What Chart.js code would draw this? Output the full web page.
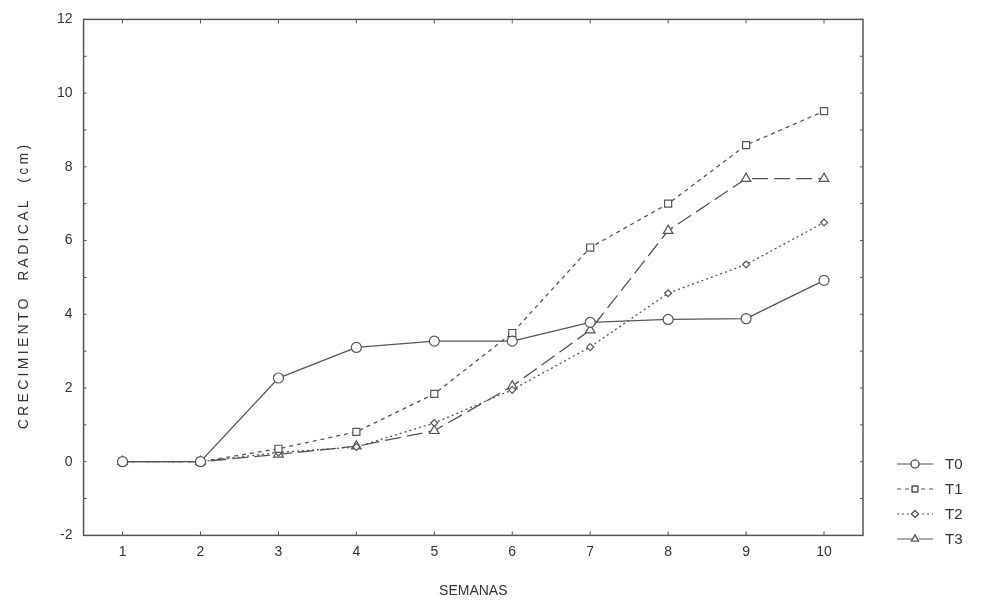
<!DOCTYPE html>
<html lang="es">
<head>
  <meta charset="utf-8">
  <title>Crecimiento radical</title>
  <script src="https://cdn.jsdelivr.net/npm/chart.js@4/dist/chart.umd.min.js"></script>
  <style>
    html, body { margin: 0; padding: 0; background: #fff; }
    #wrap { width: 981px; height: 601px; }
  </style>
</head>
<body>
<div id="wrap"><canvas id="grafico" width="981" height="601"></canvas></div>
<script>
  // semanas
  var semanas = ['1', '2', '3', '4', '5', '6', '7', '8', '9', '10'];
  // crecimiento radical (cm) por tratamiento
  var t0 = [0, 0, 2.27, 3.1, 3.27, 3.27, 3.78, 3.86, 3.88, 4.92];
  var t1 = [0, 0, 0.35, 0.81, 1.84, 3.49, 5.81, 7.0, 8.59, 9.51];
  var t2 = [0, 0, 0.25, 0.4, 1.05, 1.95, 3.11, 4.57, 5.35, 6.49];
  var t3 = [0, 0, 0.2, 0.42, 0.84, 2.05, 3.57, 6.27, 7.68, 7.68];
  var yTicks = [-2, 0, 2, 4, 6, 8, 10, 12];
  var tituloY = 'CRECIMIENTO RADICAL (cm)';

  var gris = '#555';
  var fuente = '"Liberation Sans", Arial, sans-serif';

  function serie(nombre, datos, dash, punto, radio) {
    return {
      label: nombre,
      data: datos,
      borderColor: gris,
      borderWidth: 1.3,
      borderDash: dash,
      pointStyle: punto,
      pointRadius: radio,
      pointBorderColor: gris,
      pointBorderWidth: 1.2,
      pointBackgroundColor: '#fff',
      tension: 0,
      fill: false
    };
  }

  // caja, marcas hacia dentro, titulo Y y leyenda a la derecha
  var marco = {
    id: 'marco',
    afterDraw: function(chart) {
      var ctx = chart.ctx, a = chart.chartArea;
      var sx = chart.scales.x, sy = chart.scales.y;
      ctx.save();
      ctx.strokeStyle = gris;
      ctx.lineWidth = 1.5;
      ctx.setLineDash([]);
      ctx.strokeRect(a.left, a.top, a.right - a.left, a.bottom - a.top);

      // marcas
      ctx.lineWidth = 1;
      ctx.beginPath();
      sx.ticks.forEach(function(t, i) {
        var px = sx.getPixelForTick(i);
        ctx.moveTo(px, a.bottom); ctx.lineTo(px, a.bottom - 4);
        ctx.moveTo(px, a.top); ctx.lineTo(px, a.top + 4);
      });
      for (var v = -2; v <= 12; v++) {
        var py = sy.getPixelForValue(v);
        ctx.moveTo(a.left, py); ctx.lineTo(a.left + 3, py);
        ctx.moveTo(a.right, py); ctx.lineTo(a.right - 3, py);
      }
      ctx.stroke();

      // titulo del eje Y
      ctx.save();
      ctx.translate(24, (a.top + a.bottom) / 2 + 8);
      ctx.rotate(-Math.PI / 2);
      ctx.font = '14px ' + fuente;
      ctx.letterSpacing = '3.3px';
      ctx.fillStyle = '#333';
      ctx.textAlign = 'center';
      ctx.textBaseline = 'middle';
      ctx.fillText(tituloY.replace(/ /g, '  '), 0, 0);
      ctx.restore();

      // leyenda
      chart.data.datasets.forEach(function(ds, i) {
        var y = 464 + i * 25;
        var x0 = 897, x1 = 933;
        ctx.strokeStyle = gris;
        ctx.lineWidth = 1.2;
        ctx.setLineDash(ds.borderDash || []);
        ctx.beginPath();
        ctx.moveTo(x0, y);
        ctx.lineTo(x1, y);
        ctx.stroke();
        ctx.setLineDash([]);
        Chart.helpers.drawPoint(ctx, {
          pointStyle: ds.pointStyle,
          radius: Math.min(ds.pointRadius, 4),
          borderWidth: 1.1
        }, (x0 + x1) / 2, y);
        ctx.fillStyle = '#fff';
        ctx.fill();
        ctx.stroke();
        ctx.fillStyle = '#333';
        ctx.font = '15px ' + fuente;
        ctx.textBaseline = 'middle';
        ctx.fillText(ds.label, 945, y + 1);
      });
      ctx.restore();
    }
  };

  var ctx = document.getElementById('grafico').getContext('2d');
  var chart = new Chart(ctx, {
    type: 'line',
    data: {
      labels: semanas,
      datasets: [
        serie('T0', t0, [], 'circle', 5),
        serie('T1', t1, [4, 4], 'rect', 5),
        serie('T2', t2, [2, 3], 'rectRot', 3.5),
        serie('T3', t3, [16, 6], 'triangle', 5.5)
      ]
    },
    options: {
      responsive: false,
      animation: false,
      layout: { padding: { top: 5, right: 118, bottom: 1, left: 46 } },
      plugins: {
        legend: { display: false },
        tooltip: { enabled: false }
      },
      scales: {
        x: {
          type: 'category',
          offset: true,
          grid: { drawOnChartArea: false, drawTicks: false },
          border: { display: false },
          ticks: { color: '#333', font: { family: fuente, size: 14 }, padding: 8 },
          title: {
            display: true,
            text: 'SEMANAS',
            color: '#333',
            font: { family: fuente, size: 14 },
            padding: { top: 15, bottom: 0 }
          }
        },
        y: {
          min: -2,
          max: 12,
          afterBuildTicks: function(scale) {
            scale.ticks = yTicks.map(function(v) { return { value: v }; });
          },
          grid: { drawOnChartArea: false, drawTicks: false },
          border: { display: false },
          ticks: { color: '#333', font: { family: fuente, size: 14 }, padding: 11 }
        }
      }
    },
    plugins: [marco]
  });
</script>
</body>
</html>
